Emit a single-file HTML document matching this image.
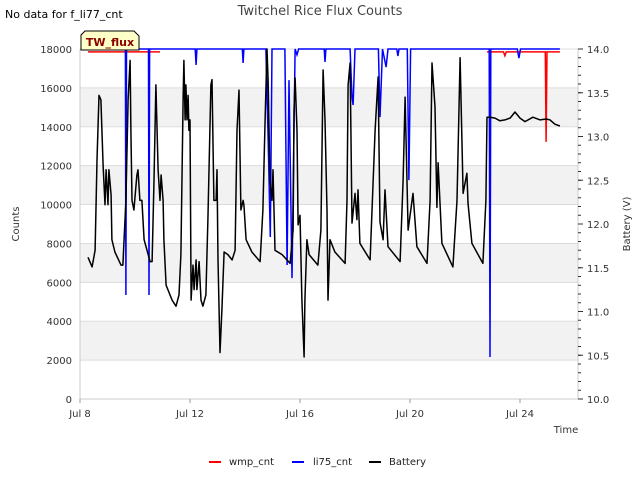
<!DOCTYPE html>
<html><head><meta charset="utf-8"><style>
body{margin:0;background:#fff;font-family:"Liberation Sans","DejaVu Sans",sans-serif}
svg text{font-family:"DejaVu Sans","Liberation Sans",sans-serif}
</style></head><body>
<svg id="chart" width="640" height="480" viewBox="0 0 640 480" xmlns="http://www.w3.org/2000/svg">
<text x="5" y="18" font-size="11" fill="#000">No data for f_li77_cnt</text>
<text x="320" y="15" font-size="13" fill="#444" text-anchor="middle">Twitchel Rice Flux Counts</text>
<g id="bands"></g>
<g id="grid"></g>
<g id="axes"></g>
<g id="series"></g>
<g>
<path d="M85,31 H134 L139,36 V50 H81 V35 Z" fill="#ffffc8" stroke="#000" stroke-width="1"/>
<text x="110" y="46" font-size="11" font-weight="bold" fill="#8b0000" text-anchor="middle">TW_flux</text>
</g>
<text x="566" y="433" font-size="10" fill="#333" text-anchor="middle">Time</text>
<text transform="translate(19,224) rotate(-90)" font-size="10" fill="#333" text-anchor="middle">Counts</text>
<text transform="translate(630,224) rotate(-90)" font-size="10" fill="#333" text-anchor="middle">Battery (V)</text>
<g>
<g><line x1="209" y1="462" x2="221" y2="462" stroke="#f00" stroke-width="2"/><text x="229" y="465" font-size="10" fill="#222">wmp_cnt</text></g>
<g><line x1="292" y1="462" x2="304" y2="462" stroke="#00f" stroke-width="2"/><text x="313" y="465" font-size="10" fill="#222">li75_cnt</text></g>
<g><line x1="369" y1="462" x2="381" y2="462" stroke="#000" stroke-width="2"/><text x="389" y="465" font-size="10" fill="#222">Battery</text></g>
</g>
</svg>
<script>
const xTickLabels=["Jul 8","Jul 12","Jul 16","Jul 20","Jul 24"];
const xTickDays=[0,4,8,12,16];
const yTicks=[0,2000,4000,6000,8000,10000,12000,14000,16000,18000];
const y2Ticks=[10,10.5,11,11.5,12,12.5,13,13.5,14];
const batTime=[0.29,0.44,0.55,0.62,0.69,0.76,0.84,0.91,0.95,1.02,1.05,1.13,1.16,1.27,1.49,1.56,1.67,1.75,1.82,1.85,1.89,1.96,2.07,2.11,2.18,2.25,2.33,2.55,2.62,2.69,2.76,2.84,2.91,2.95,3.02,3.05,3.13,3.35,3.49,3.60,3.67,3.75,3.78,3.82,3.85,3.89,3.93,3.96,4.00,4.04,4.11,4.15,4.22,4.25,4.33,4.40,4.47,4.58,4.65,4.76,4.80,4.87,4.95,4.98,5.02,5.09,5.16,5.24,5.38,5.53,5.64,5.71,5.78,5.82,5.85,5.93,5.96,6.04,6.25,6.55,6.65,6.73,6.80,6.84,6.91,6.98,7.02,7.09,7.35,7.64,7.75,7.78,7.82,7.89,7.93,8.00,8.07,8.15,8.18,8.25,8.33,8.65,8.76,8.84,8.91,8.98,9.02,9.09,9.27,9.64,9.71,9.75,9.82,9.89,10.00,10.07,10.11,10.18,10.55,10.73,10.84,10.91,11.02,11.09,11.20,11.64,11.75,11.82,11.93,12.11,12.25,12.62,12.73,12.80,12.91,12.98,13.02,13.16,13.56,13.71,13.82,13.93,14.07,14.11,14.25,14.65,14.76,14.80,14.91,15.09,15.27,15.45,15.64,15.82,16.00,16.18,16.47,16.73,16.95,17.09,17.27,17.45];
const batVolts=[11.62,11.51,11.70,12.73,13.47,13.42,12.67,12.22,12.62,12.22,12.62,12.33,11.82,11.68,11.53,11.53,12.27,13.42,13.87,13.07,12.27,12.16,12.56,12.62,12.27,12.27,11.82,11.57,11.57,12.50,13.59,12.62,12.27,12.56,12.27,11.82,11.30,11.13,11.06,11.19,11.65,13.42,13.87,13.19,13.59,13.19,13.47,13.07,13.19,11.13,11.53,11.25,11.59,11.25,11.57,11.13,11.06,11.19,12.05,13.59,13.65,12.27,12.27,12.62,11.59,10.53,11.02,11.68,11.65,11.59,11.70,13.07,13.53,12.73,12.16,12.27,12.22,11.82,11.68,11.57,12.16,13.19,14.0,13.65,12.50,12.27,12.62,11.70,11.65,11.55,11.93,13.30,13.67,13.07,11.99,12.10,11.13,10.48,11.13,11.82,11.65,11.53,11.93,13.76,13.19,12.16,11.13,11.82,11.68,11.55,12.27,13.59,13.84,12.01,12.35,12.05,12.39,11.78,11.59,13.07,13.68,12.02,11.82,12.39,11.74,11.57,12.50,13.45,11.93,12.35,11.74,11.55,12.27,13.84,13.34,12.19,12.70,11.78,11.51,12.27,13.90,12.35,12.58,12.24,11.78,11.55,12.27,13.22,13.22,13.21,13.18,13.19,13.21,13.28,13.21,13.17,13.22,13.19,13.20,13.19,13.14,13.12];
const liTime=[0.29,1.65,1.67,1.69,2.49,2.51,2.53,4.19,4.22,4.25,5.90,5.93,5.96,6.76,6.84,6.92,6.98,7.45,7.53,7.60,7.71,7.82,7.89,7.95,8.88,8.91,8.94,9.82,9.89,9.93,10.00,10.85,10.91,11.00,11.13,11.20,11.52,11.56,11.60,11.90,11.96,12.02,14.88,14.91,14.94,15.90,15.96,16.02,17.45];
const liCount=[18000,18000,5350,18000,18000,5350,18000,18000,17180,18000,18000,17280,18000,18000,13470,8330,18000,18000,6890,16400,6220,18000,17700,18000,18000,17330,18000,18000,15530,15120,18000,18000,14500,18000,17070,18000,18000,17640,18000,18000,11260,18000,18000,2160,18000,18000,17530,18000,18000];
const wmpTime=[0.29,2.91,2.92,14.80,15.40,15.45,15.50,16.92,16.95,16.98,17.45];
const wmpCount=[17850,17850,null,17850,17850,17650,17850,17850,13220,17850,17850];

const X0=80,X1=578,Y0=399,Y1=49,PXD=27.5;
const xs=d=>X0+d*PXD;
const ys=c=>Y0-(c/18000)*(Y0-Y1);
const ys2=v=>Y0-((v-10)/4)*(Y0-Y1);
const NS="http://www.w3.org/2000/svg";
function mk(tag,attrs,parent){const e=document.createElementNS(NS,tag);for(const k in attrs)e.setAttribute(k,attrs[k]);parent.appendChild(e);return e;}
const bands=document.getElementById('bands'),grid=document.getElementById('grid'),axes=document.getElementById('axes'),series=document.getElementById('series');
for(let i=1;i<yTicks.length-1;i+=2){
  const r=mk('rect',{x:X0,y:ys(yTicks[i+1]),width:X1-X0,height:ys(yTicks[i])-ys(yTicks[i+1]),fill:'#f2f2f2'},bands);
  
  
}
yTicks.forEach(t=>{
  const l=mk('line',{x1:X0,x2:X1,y1:ys(t),y2:ys(t),stroke:'#dcdcdc','stroke-width':1},grid);
  
  
  const tx=mk('text',{x:X0-8,y:ys(t)+4,'font-size':10,fill:'#333','text-anchor':'end'},axes);
  tx.textContent=t;
  
  
});
mk('line',{x1:X0,x2:X0,y1:Y1,y2:Y0,stroke:'#ccc'},axes);
mk('line',{x1:X0,x2:X1,y1:Y0,y2:Y0,stroke:'#ccc'},axes);
mk('line',{x1:X1,x2:X1,y1:Y1,y2:Y0,stroke:'#ccc'},axes);
xTickDays.forEach((d,i)=>{
  mk('line',{x1:xs(d),x2:xs(d),y1:Y0,y2:Y0+4,stroke:'#999'},axes);
  const tx=mk('text',{x:xs(d),y:Y0+18,'font-size':10,fill:'#333','text-anchor':'middle'},axes);
  tx.textContent=xTickLabels[i];
  
  
});
for(let v=10;v<=14.001;v+=0.1){mk('line',{x1:X1,x2:X1+3,y1:ys2(v),y2:ys2(v),stroke:'#333'},axes);}
y2Ticks.forEach(v=>{
  mk('line',{x1:X1,x2:X1+5,y1:ys2(v),y2:ys2(v),stroke:'#333'},axes);
  const tx=mk('text',{x:X1+9,y:ys2(v)+4,'font-size':10,fill:'#333'},axes);
  tx.textContent=v.toFixed(1);
  
  
});
function path(ts,vs,sc){let d='',pen=false;for(let i=0;i<ts.length;i++){if(vs[i]===null){pen=false;continue;}d+=(pen?'L':'M')+xs(ts[i]).toFixed(1)+','+sc(vs[i]).toFixed(1);pen=true;}return d;}
const pw=mk('path',{d:path(wmpTime,wmpCount,ys),fill:'none',stroke:'#f00','stroke-width':1.5},series);


const pl=mk('path',{d:path(liTime,liCount,ys),fill:'none',stroke:'#00f','stroke-width':1.5},series);


const pb=mk('path',{d:path(batTime,batVolts,ys2),fill:'none',stroke:'#000','stroke-width':1.5,'stroke-linejoin':'round'},series);


</script>
</body></html>
